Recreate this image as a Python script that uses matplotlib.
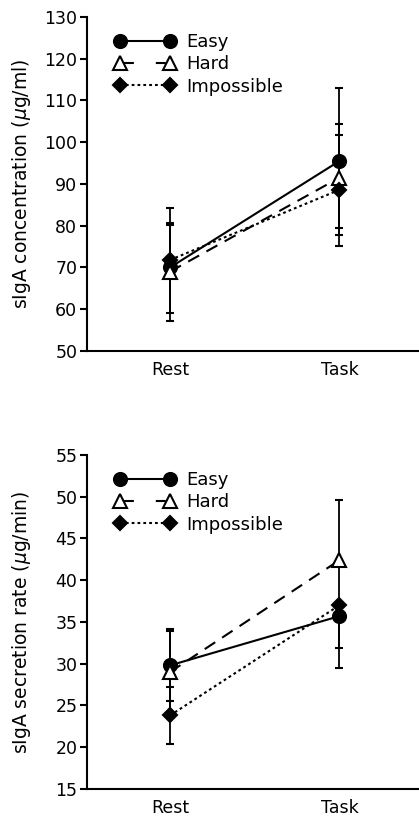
import matplotlib.pyplot as plt
from matplotlib.lines import Line2D
import numpy as np

plt.rcParams['font.family'] = ['DejaVu Sans']
plt.rcParams['lines.scale_dashes'] = False

conditions = ["Rest", "Task"]
groups = ["Easy", "Hard", "Impossible"]

# sIgA concentration (ug/ml)
conc_mean = {"Easy": [70.0, 95.5], "Hard": [69.0, 91.5], "Impossible": [71.8, 88.6]}
conc_err_lo = {"Easy": [11.0, 17.6], "Hard": [11.7, 12.1], "Impossible": [0.0, 13.5]}
conc_err_hi = {"Easy": [14.2, 17.6], "Hard": [11.7, 12.8], "Impossible": [8.4, 13.1]}

# sIgA secretion rate (ug/min)
rate_mean = {"Easy": [29.8, 35.7], "Hard": [29.0, 42.4], "Impossible": [23.8, 37.0]}
rate_err_lo = {"Easy": [4.3, 3.8], "Hard": [4.9, 7.2], "Impossible": [3.4, 7.5]}
rate_err_hi = {"Easy": [4.3, 0.0], "Hard": [4.9, 7.2], "Impossible": [3.4, 0.0]}

styles = {
    "Easy": dict(marker="o", ms=9.4, mfc="black", ls="-"),
    "Hard": dict(marker="^", ms=9.4, mfc="white", ls=(0, (9, 6))),
    "Impossible": dict(marker="D", ms=7.5, mfc="black", ls=(0, (2, 2.2))),
}
legend_ls = {"Easy": "-", "Hard": (20.2, (7.2, 15.8)), "Impossible": (0, (2, 2.2))}


def draw_panel(ax, mean, err_lo, err_hi, ylim, yticks, ylabel):
    x = np.arange(len(conditions))
    for g in groups:
        ax.errorbar(x, mean[g], yerr=[err_lo[g], err_hi[g]], fmt="none",
                    ecolor="black", elinewidth=1.3, capsize=2.6, capthick=1.5, zorder=2)
    for g in groups:
        st = styles[g]
        ax.plot(x, mean[g], color="black", lw=1.5, ls=st["ls"], marker=st["marker"],
                ms=st["ms"], mfc=st["mfc"], mec="black", mew=1.5, zorder=3)
    handles = [Line2D([], [], color="black", lw=1.5, ls=legend_ls[g],
                      marker=styles[g]["marker"], ms=styles[g]["ms"],
                      mfc=styles[g]["mfc"], mec="black", mew=1.5) for g in groups]
    ax.legend(handles, groups, loc="upper left", bbox_to_anchor=(0.084, 0.952),
              frameon=False, borderpad=0, borderaxespad=0, numpoints=2,
              handlelength=3.33, handletextpad=0.62, labelspacing=0.24, fontsize=13)
    ax.set_xlim(-0.49, 1.47)
    ax.set_ylim(*ylim)
    ax.set_yticks(yticks)
    ax.set_xticks(x)
    ax.set_xticklabels(conditions, fontsize=12.5)
    ax.tick_params(axis="x", length=0, pad=7)
    ax.tick_params(axis="y", length=5, width=1.5, labelsize=12.5, pad=2)
    ax.set_ylabel(ylabel, fontsize=13.5)
    ax.yaxis.set_label_coords(-0.163, 0.5)
    for s in ["top", "right"]:
        ax.spines[s].set_visible(False)
    for s in ["left", "bottom"]:
        ax.spines[s].set_linewidth(1.5)


fig = plt.figure(figsize=(4.19, 8.17), dpi=100)
ax1 = fig.add_axes([0.2076, 0.5704, 0.7924, 0.4088])
ax2 = fig.add_axes([0.2076, 0.0343, 0.7924, 0.4088])

draw_panel(ax1, conc_mean, conc_err_lo, conc_err_hi, (50, 130), np.arange(50, 131, 10),
           r"sIgA concentration ($\mu$g/ml)")
draw_panel(ax2, rate_mean, rate_err_lo, rate_err_hi, (15, 55), np.arange(15, 56, 5),
           r"sIgA secretion rate ($\mu$g/min)")

fig.savefig("out.png", dpi=100)
